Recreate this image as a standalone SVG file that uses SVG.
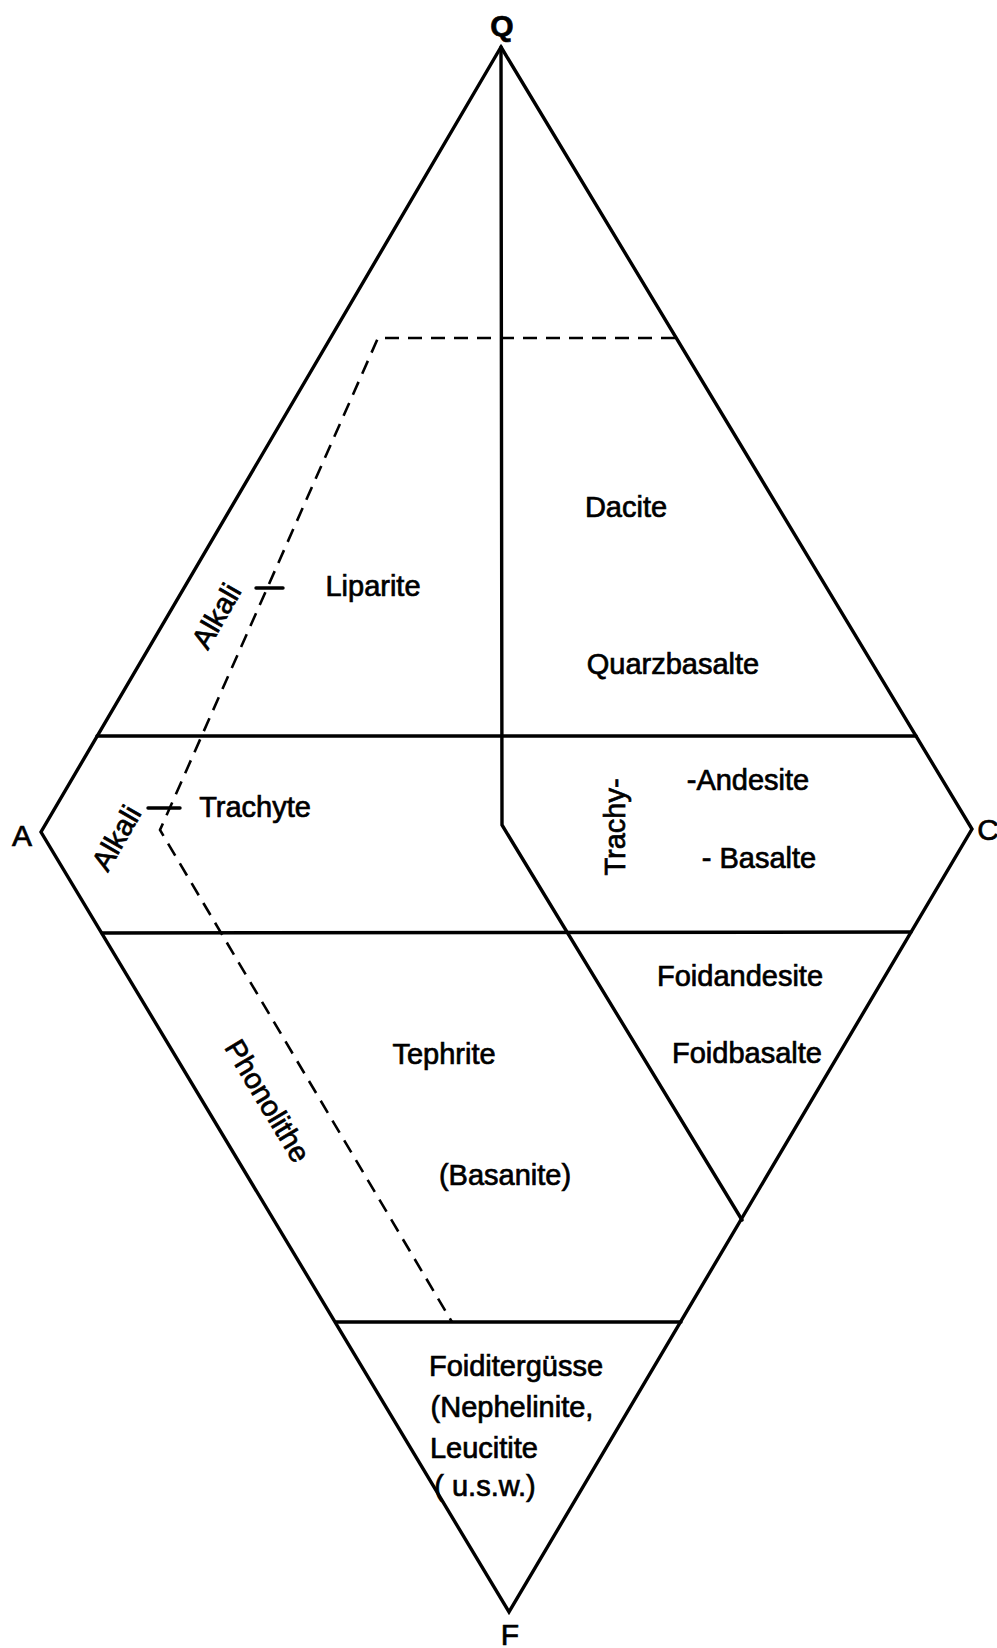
<svg xmlns="http://www.w3.org/2000/svg" width="997" height="1648" viewBox="0 0 997 1648">
<style>
.ln{fill:none;stroke:#000;stroke-width:3.4;stroke-linejoin:miter;stroke-linecap:round}
.ds{fill:none;stroke:#000;stroke-width:2.6;stroke-dasharray:14 9}
.t{font-family:"Liberation Sans",Arial,sans-serif;font-size:29px;fill:#000;stroke:#000;stroke-width:0.7;text-anchor:middle}
.v{font-family:"Liberation Sans",Arial,sans-serif;font-size:30px;fill:#000;stroke:#000;stroke-width:0.7;text-anchor:middle}
</style>
<rect width="997" height="1648" fill="#fff"/>
<g id="connectors">
<polygon class="ln" points="501,47 972,829 509,1612 41,832"/>
<line class="ln" x1="97" y1="736" x2="916" y2="736"/>
<line class="ln" x1="102" y1="933" x2="911" y2="932"/>
<line class="ln" x1="336" y1="1322" x2="681" y2="1322"/>
<polyline class="ln" points="501,47 502,825 742,1220"/>
<polyline class="ds" points="675,338 378,338 160,830 452,1322"/>
<line class="ln" x1="256" y1="588" x2="283" y2="588" stroke-width="2.6"/>
<line class="ln" x1="148" y1="808" x2="180" y2="808" stroke-width="2.6"/>
</g>
<g id="vertex-Q"><text class="v" x="502" y="36" font-weight="bold">Q</text></g>
<g id="vertex-A"><text class="v" x="22" y="846">A</text></g>
<g id="vertex-C"><text class="v" x="988" y="840">C</text></g>
<g id="vertex-F"><text class="v" x="510" y="1645">F</text></g>
<g id="liparite"><text class="t" x="373" y="596">Liparite</text></g>
<g id="dacite"><text class="t" x="626" y="517">Dacite</text></g>
<g id="quarzbasalte"><text class="t" x="673" y="674">Quarzbasalte</text></g>
<g id="alkali-upper"><text class="t" transform="translate(225,621) rotate(-60)" x="0" y="0">Alkali</text></g>
<g id="alkali-lower"><text class="t" transform="translate(125,843) rotate(-60)" x="0" y="0">Alkali</text></g>
<g id="trachyte"><text class="t" x="255" y="817">Trachyte</text></g>
<g id="trachy"><text class="t" transform="translate(625,827) rotate(-90)" x="0" y="0">Trachy-</text></g>
<g id="andesite"><text class="t" x="748" y="790">-Andesite</text></g>
<g id="basalte"><text class="t" x="759" y="868">- Basalte</text></g>
<g id="foidandesite"><text class="t" x="740" y="986">Foidandesite</text></g>
<g id="foidbasalte"><text class="t" x="747" y="1063">Foidbasalte</text></g>
<g id="phonolithe"><text class="t" transform="translate(259,1106) rotate(59)" x="0" y="0">Phonolithe</text></g>
<g id="tephrite"><text class="t" x="444" y="1064">Tephrite</text></g>
<g id="basanite"><text class="t" x="505" y="1185">(Basanite)</text></g>
<g id="foiditerguesse">
<text class="t" x="516" y="1376">Foiditergüsse</text>
<text class="t" x="512" y="1417">(Nephelinite,</text>
<text class="t" x="484" y="1458">Leucitite</text>
<text class="t" x="485" y="1496">( u.s.w.)</text>
</g>
</svg>
